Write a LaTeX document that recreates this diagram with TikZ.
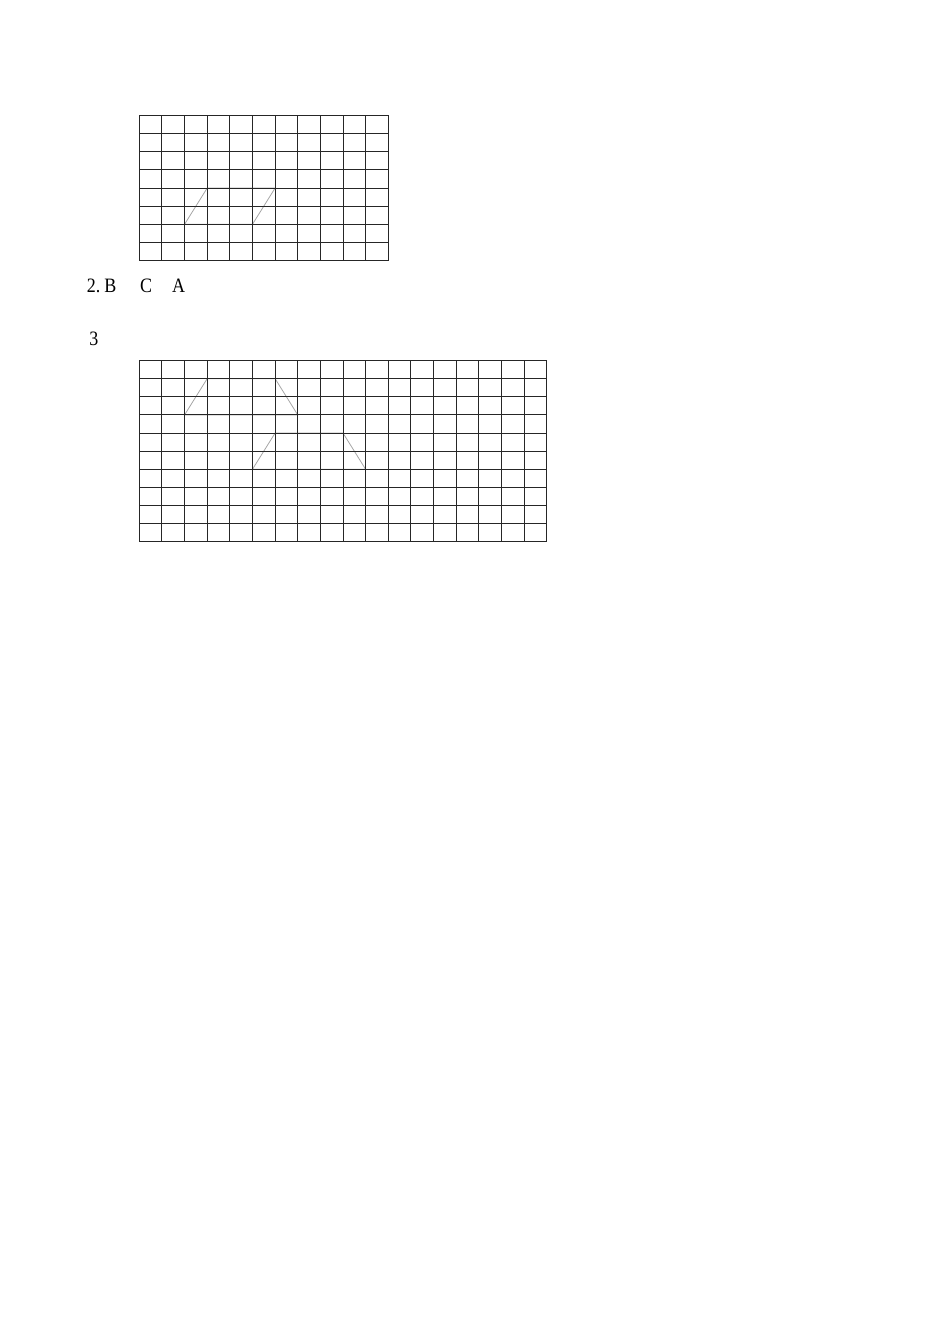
\documentclass[tikz,border=0pt]{standalone}
\usepackage{fontspec}
\setmainfont{Liberation Serif}
\newfontfamily\narrowserif[FakeStretch=0.88]{Liberation Serif}
\begin{document}
\begin{tikzpicture}[x=0.6265pt,y=-0.6265pt,
  gridline/.style={line width=0.55pt,black!85},
  shapeline/.style={line width=0.5pt,black!35},
  label/.style={inner sep=0pt,anchor=base west,font=\narrowserif\fontsize{12.8pt}{15pt}\selectfont}]
\useasboundingbox (0,0) rectangle (950,1344);
% grid 1: 11 x 8 cells
\begin{scope}[shift={(139.3,115.5)},x=14.18pt,y=-11.36pt]
  \draw[shapeline] (3,4) -- (6,4) -- (5,6) -- (2,6) -- cycle;
  \foreach \i in {0,...,11} \draw[gridline] (\i,0) -- (\i,8);
  \foreach \j in {0,...,8} \draw[gridline] (0,\j) -- (11,\j);
\end{scope}
\node[label] (t2) at (86.5,292.5) {2.\hspace{2.5pt}B\hspace{15pt}C\hspace{12.5pt}A};
\node[label] (t3) at (89,345.5) {3};
% grid 2: 18 x 10 cells
\begin{scope}[shift={(139.3,360.5)},x=14.18pt,y=-11.36pt]
  \draw[shapeline] (3,1) -- (6,1) -- (7,3) -- (2,3) -- cycle;
  \draw[shapeline] (6,4) -- (9,4) -- (10,6) -- (5,6) -- cycle;
  \foreach \i in {0,...,18} \draw[gridline] (\i,0) -- (\i,10);
  \foreach \j in {0,...,10} \draw[gridline] (0,\j) -- (18,\j);
\end{scope}
\end{tikzpicture}
\end{document}
